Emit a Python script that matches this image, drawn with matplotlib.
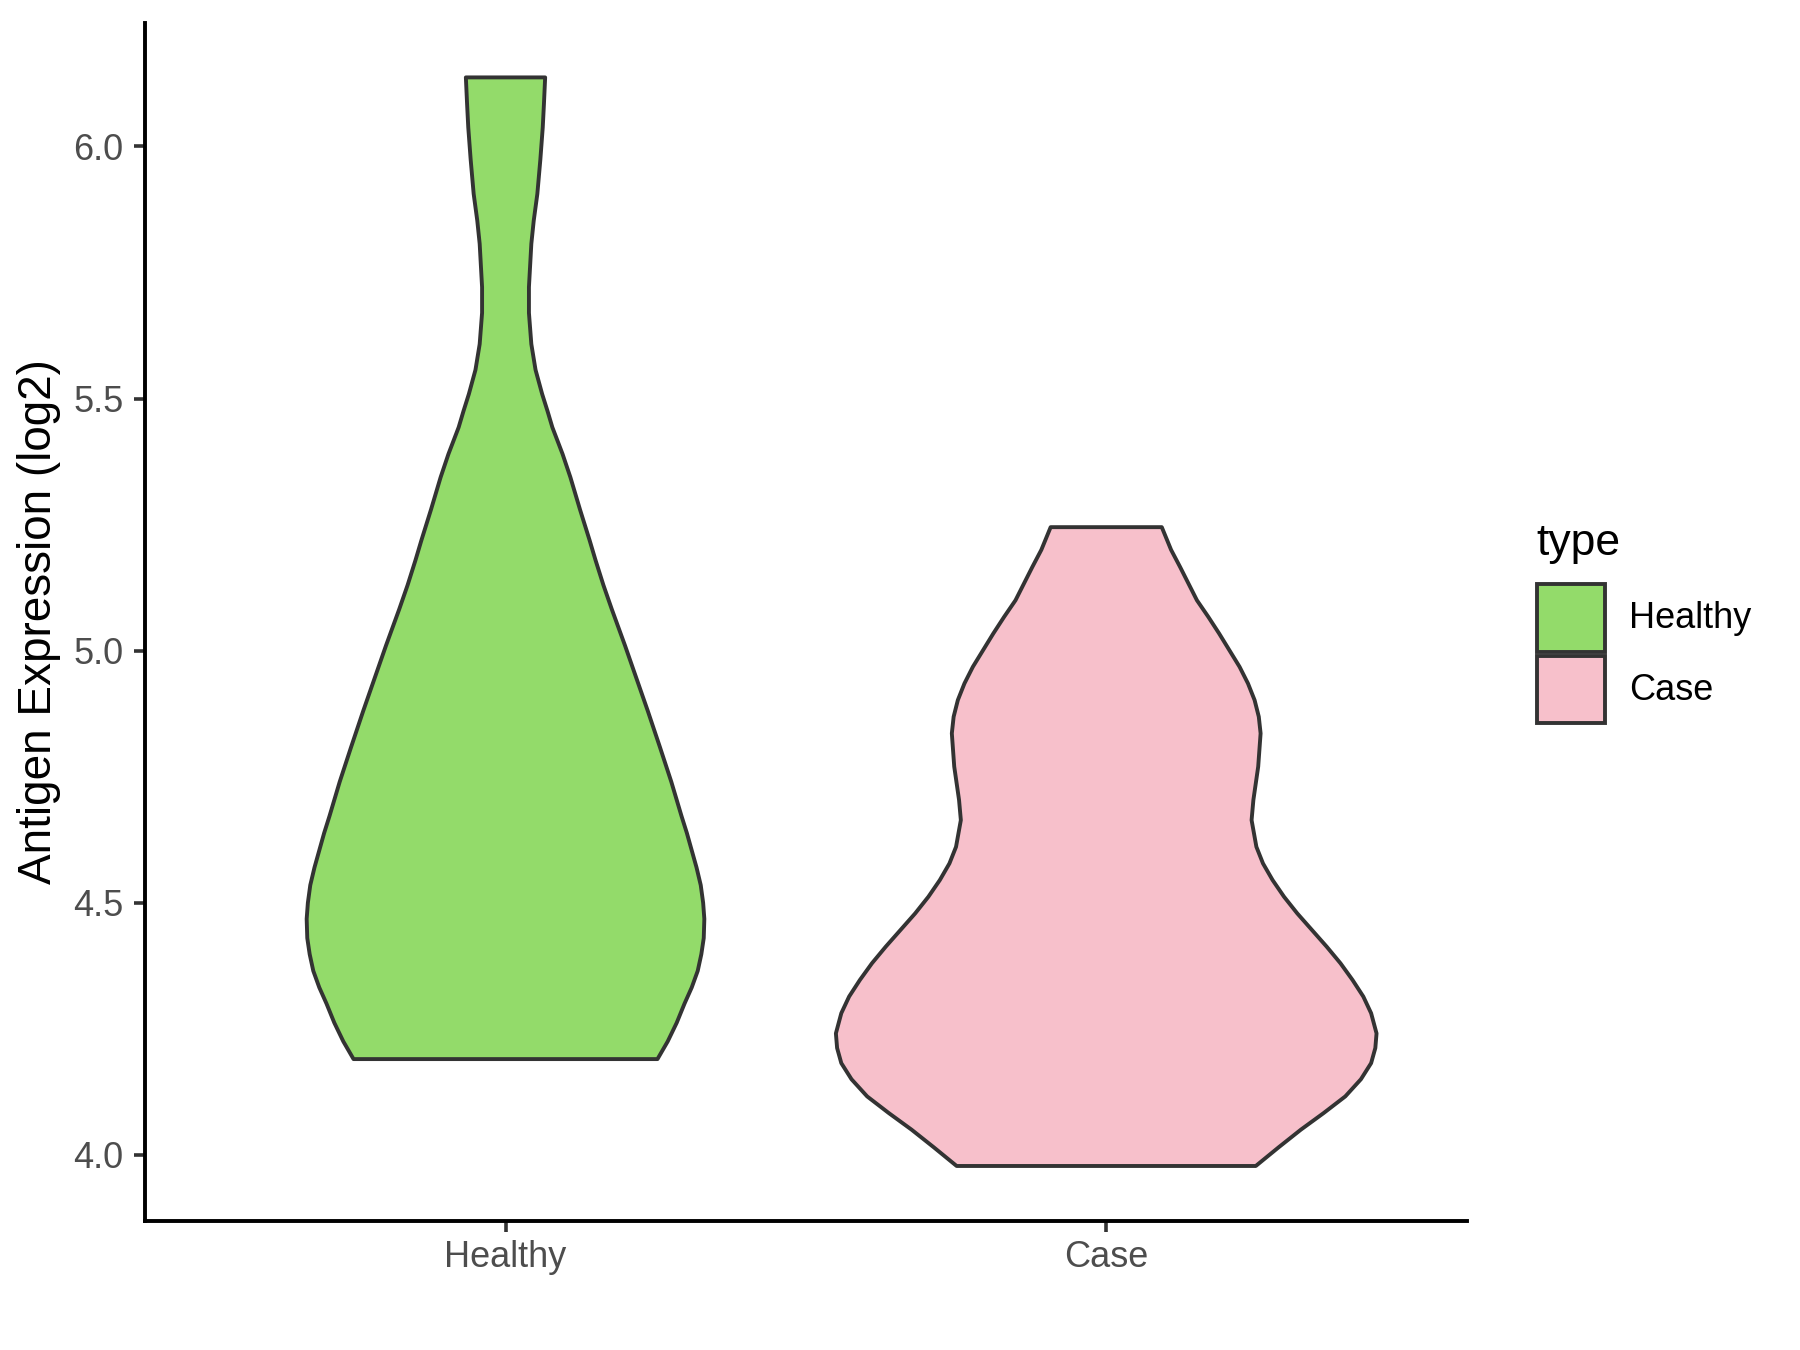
import numpy as np
import matplotlib
matplotlib.use('Agg')
import matplotlib.pyplot as plt
from matplotlib.patches import Rectangle

plt.rcParams['font.family'] = ['Liberation Sans', 'DejaVu Sans']

groups = ['Healthy', 'Case']
colors = ['#93DB6A', '#F7C0CB']

# violin outlines: y value and half width (x units)
healthy_y = [6.137, 6.085, 6.038, 5.974, 5.906, 5.853, 5.807, 5.721, 5.670, 5.608,
             5.557, 5.509, 5.475, 5.443, 5.390, 5.344, 5.280, 5.219, 5.179, 5.130,
             5.082, 5.010, 4.945, 4.880, 4.809, 4.740, 4.672, 4.638, 4.604, 4.570,
             4.535, 4.500, 4.468, 4.430, 4.398, 4.365, 4.332, 4.300, 4.262, 4.225,
             4.190]
healthy_w = [0.066, 0.064, 0.062, 0.058, 0.053, 0.047, 0.043, 0.039, 0.039, 0.043,
             0.050, 0.061, 0.070, 0.078, 0.095, 0.108, 0.124, 0.140, 0.150, 0.163,
             0.177, 0.199, 0.218, 0.237, 0.257, 0.276, 0.293, 0.302, 0.310, 0.318,
             0.325, 0.329, 0.331, 0.330, 0.326, 0.320, 0.310, 0.298, 0.285, 0.270,
             0.253]

case_y = [5.245, 5.200, 5.166, 5.133, 5.100, 5.067, 5.034, 4.968, 4.935, 4.902,
          4.869, 4.836, 4.770, 4.737, 4.704, 4.664, 4.611, 4.578, 4.545, 4.512,
          4.479, 4.413, 4.380, 4.347, 4.314, 4.281, 4.241, 4.212, 4.182, 4.150,
          4.116, 4.083, 4.050, 4.015, 3.978]
case_w = [0.0925, 0.108, 0.123, 0.137, 0.151, 0.170, 0.188, 0.222, 0.236, 0.247,
          0.254, 0.257, 0.253, 0.249, 0.245, 0.242, 0.250, 0.261, 0.277, 0.296,
          0.318, 0.367, 0.390, 0.410, 0.428, 0.441, 0.450, 0.448, 0.441, 0.424,
          0.398, 0.362, 0.324, 0.287, 0.249]

profiles = [(healthy_y, healthy_w), (case_y, case_w)]

fig = plt.figure(figsize=(9, 6.75), dpi=200)
ax = fig.add_axes([0.0806, 0.0956, 0.7342, 0.8874])

for i, (ys, ws) in enumerate(profiles):
    pos = i + 1
    ys = np.array(ys)
    ws = np.array(ws)
    xs = np.concatenate([pos + ws, (pos - ws)[::-1]])
    yy = np.concatenate([ys, ys[::-1]])
    ax.fill(xs, yy, facecolor=colors[i], edgecolor='#333333', linewidth=1.4,
            joinstyle='round', zorder=2)

ax.set_xlim(0.4, 2.6)
ax.set_ylim(3.869, 6.245)
ax.set_xticks([1, 2])
ax.set_xticklabels(groups)
ax.set_yticks([4.0, 4.5, 5.0, 5.5, 6.0])
ax.set_yticklabels(['4.0', '4.5', '5.0', '5.5', '6.0'])

for s in ['top', 'right']:
    ax.spines[s].set_visible(False)
for s in ['left', 'bottom']:
    ax.spines[s].set_linewidth(1.4)
    ax.spines[s].set_color('black')
ax.tick_params(axis='both', length=3.8, width=1.3, color='#333333',
               labelcolor='#4D4D4D', labelsize=13)
ax.tick_params(axis='y', pad=4)
ax.tick_params(axis='x', pad=3)

ax.set_ylabel('Antigen Expression (log2)', fontsize=16.5, color='black')
ax.yaxis.set_label_coords(-0.064, 0.5)

# legend
W, H = 1800, 1350
fig.text(1536 / W, 1 - 543 / H, 'type', fontsize=16, color='black', va='center', ha='left')
key_tops = [584, 655.7]
for i, g in enumerate(groups):
    top = key_tops[i]
    rect = Rectangle((1537.3 / W, 1 - (top + 67.7) / H), 67.7 / W, 67.7 / H,
                     transform=fig.transFigure, facecolor=colors[i],
                     edgecolor='#333333', linewidth=1.4)
    fig.add_artist(rect)
    fig.text(1629 / W, 1 - (top + 35) / H, g, fontsize=13, color='black',
             va='center', ha='left')

fig.savefig('out.png', dpi=200, facecolor='white')
